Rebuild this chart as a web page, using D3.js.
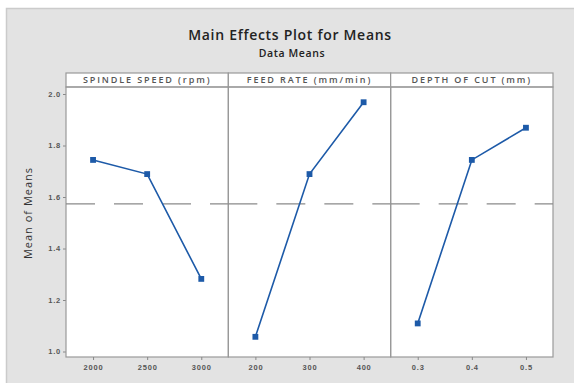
<!DOCTYPE html>
<html>
<head>
<meta charset="utf-8">
<script src="https://cdn.jsdelivr.net/npm/d3@7"></script>
<style>
  html, body { margin: 0; padding: 0; background: #fff; }
  svg { display: block; font-family: "Open Sans", "Noto Sans", sans-serif; }
</style>
</head>
<body>
<div id="chart"></div>
<script>
// Main effects plot for means — three factors, one panel each
const factors = ["SPINDLE SPEED (rpm)", "FEED RATE (mm/min)", "DEPTH OF CUT (mm)"];
const levels = [
  ["2000", "2500", "3000"],
  ["200", "300", "400"],
  ["0.3", "0.4", "0.5"]
];
const means = [
  [1.744, 1.689, 1.282],
  [1.057, 1.689, 1.968],
  [1.109, 1.744, 1.869]
];
const grandMean = 1.573;
const yTicks = [1.0, 1.2, 1.4, 1.6, 1.8, 2.0];

const W = 574, H = 385;
const plotL = 66, plotR = 553, plotT = 87, plotB = 357, headT = 73;
const blue = "#1d5aa8";

const svg = d3.select("#chart").append("svg")
  .attr("width", W).attr("height", H);

// grey graph region
svg.append("rect")
  .attr("x", 6).attr("y", 8).attr("width", W - 6).attr("height", 375)
  .attr("fill", "#e3e3e3");
svg.append("path")
  .attr("d", `M6.5,383V8.5H${W}`)
  .attr("fill", "none").attr("stroke", "#cbcbcb").attr("stroke-width", 1.5);

// Titles
svg.append("text")
  .attr("x", 290).attr("y", 40)
  .attr("text-anchor", "middle").attr("font-size", "14px").attr("font-weight", "600")
  .attr("letter-spacing", "0.7px").attr("fill", "#222")
  .text("Main Effects Plot for Means");
svg.append("text")
  .attr("x", 292).attr("y", 57)
  .attr("text-anchor", "middle").attr("font-size", "10.5px").attr("font-weight", "600")
  .attr("letter-spacing", "0.6px").attr("fill", "#222")
  .text("Data Means");

const y = d3.scaleLinear().domain([1.0, 2.0]).range([351.5, 94]);

const panelX = d3.scaleBand().domain(factors).range([plotL, plotR]);

// White plot background
svg.append("rect")
  .attr("x", plotL).attr("y", plotT).attr("width", plotR - plotL).attr("height", plotB - plotT)
  .attr("fill", "#fff");

// Y axis
const yAxis = svg.append("g")
  .attr("transform", `translate(${plotL},0)`)
  .call(d3.axisLeft(y).tickValues(yTicks).tickFormat(d3.format(".1f")).tickSize(3).tickPadding(2));
yAxis.select(".domain").remove();
yAxis.selectAll("line").attr("stroke", "#888");
yAxis.selectAll("text").attr("font-size", "7.5px").attr("letter-spacing", "0.8px")
  .attr("font-weight", "600").attr("fill", "#555").attr("font-family", "inherit");

svg.append("text")
  .attr("transform", "translate(32,213) rotate(-90)")
  .attr("text-anchor", "middle").attr("font-size", "11px").attr("letter-spacing", "1px")
  .attr("fill", "#333")
  .text("Mean of Means");

const line = d3.line();

factors.forEach((f, i) => {
  const x0 = panelX(f), x1 = x0 + panelX.bandwidth();
  const x = d3.scalePoint().domain(levels[i]).range([x0, x1]).padding(0.5);

  // header strip
  svg.append("rect")
    .attr("x", x0).attr("y", headT).attr("width", x1 - x0).attr("height", plotT - headT)
    .attr("fill", "#fff").attr("stroke", "#999").attr("stroke-width", 1.2);
  svg.append("text")
    .attr("x", (x0 + x1) / 2).attr("y", plotT - 4)
    .attr("text-anchor", "middle").attr("font-size", "9px").attr("font-weight", "600")
    .attr("letter-spacing", "1.9px").attr("fill", "#555")
    .text(f);

  // panel border
  svg.append("rect")
    .attr("x", x0).attr("y", plotT).attr("width", x1 - x0).attr("height", plotB - plotT)
    .attr("fill", "none").attr("stroke", "#999").attr("stroke-width", 1.2);

  // grand mean reference line
  svg.append("line")
    .attr("x1", x0).attr("x2", x1)
    .attr("y1", y(grandMean)).attr("y2", y(grandMean))
    .attr("stroke", "#8a8a8a").attr("stroke-width", 1.3)
    .attr("stroke-dasharray", "29 19");

  // x axis
  const xa = svg.append("g")
    .attr("transform", `translate(0,${plotB})`)
    .call(d3.axisBottom(x).tickSize(3).tickPadding(5));
  xa.select(".domain").remove();
  xa.selectAll("line").attr("stroke", "#888");
  xa.selectAll("text").attr("font-size", "7.5px").attr("letter-spacing", "0.8px")
    .attr("font-weight", "600").attr("fill", "#555").attr("font-family", "inherit");

  const pts = levels[i].map((lv, j) => [x(lv), y(means[i][j])]);
  svg.append("path")
    .attr("d", line(pts))
    .attr("fill", "none").attr("stroke", blue).attr("stroke-width", 1.6);
  svg.selectAll(null).data(pts).enter().append("path")
    .attr("transform", d => `translate(${d[0]},${d[1]})`)
    .attr("d", d3.symbol(d3.symbolSquare, 34))
    .attr("fill", blue);
});
</script>
</body>
</html>
